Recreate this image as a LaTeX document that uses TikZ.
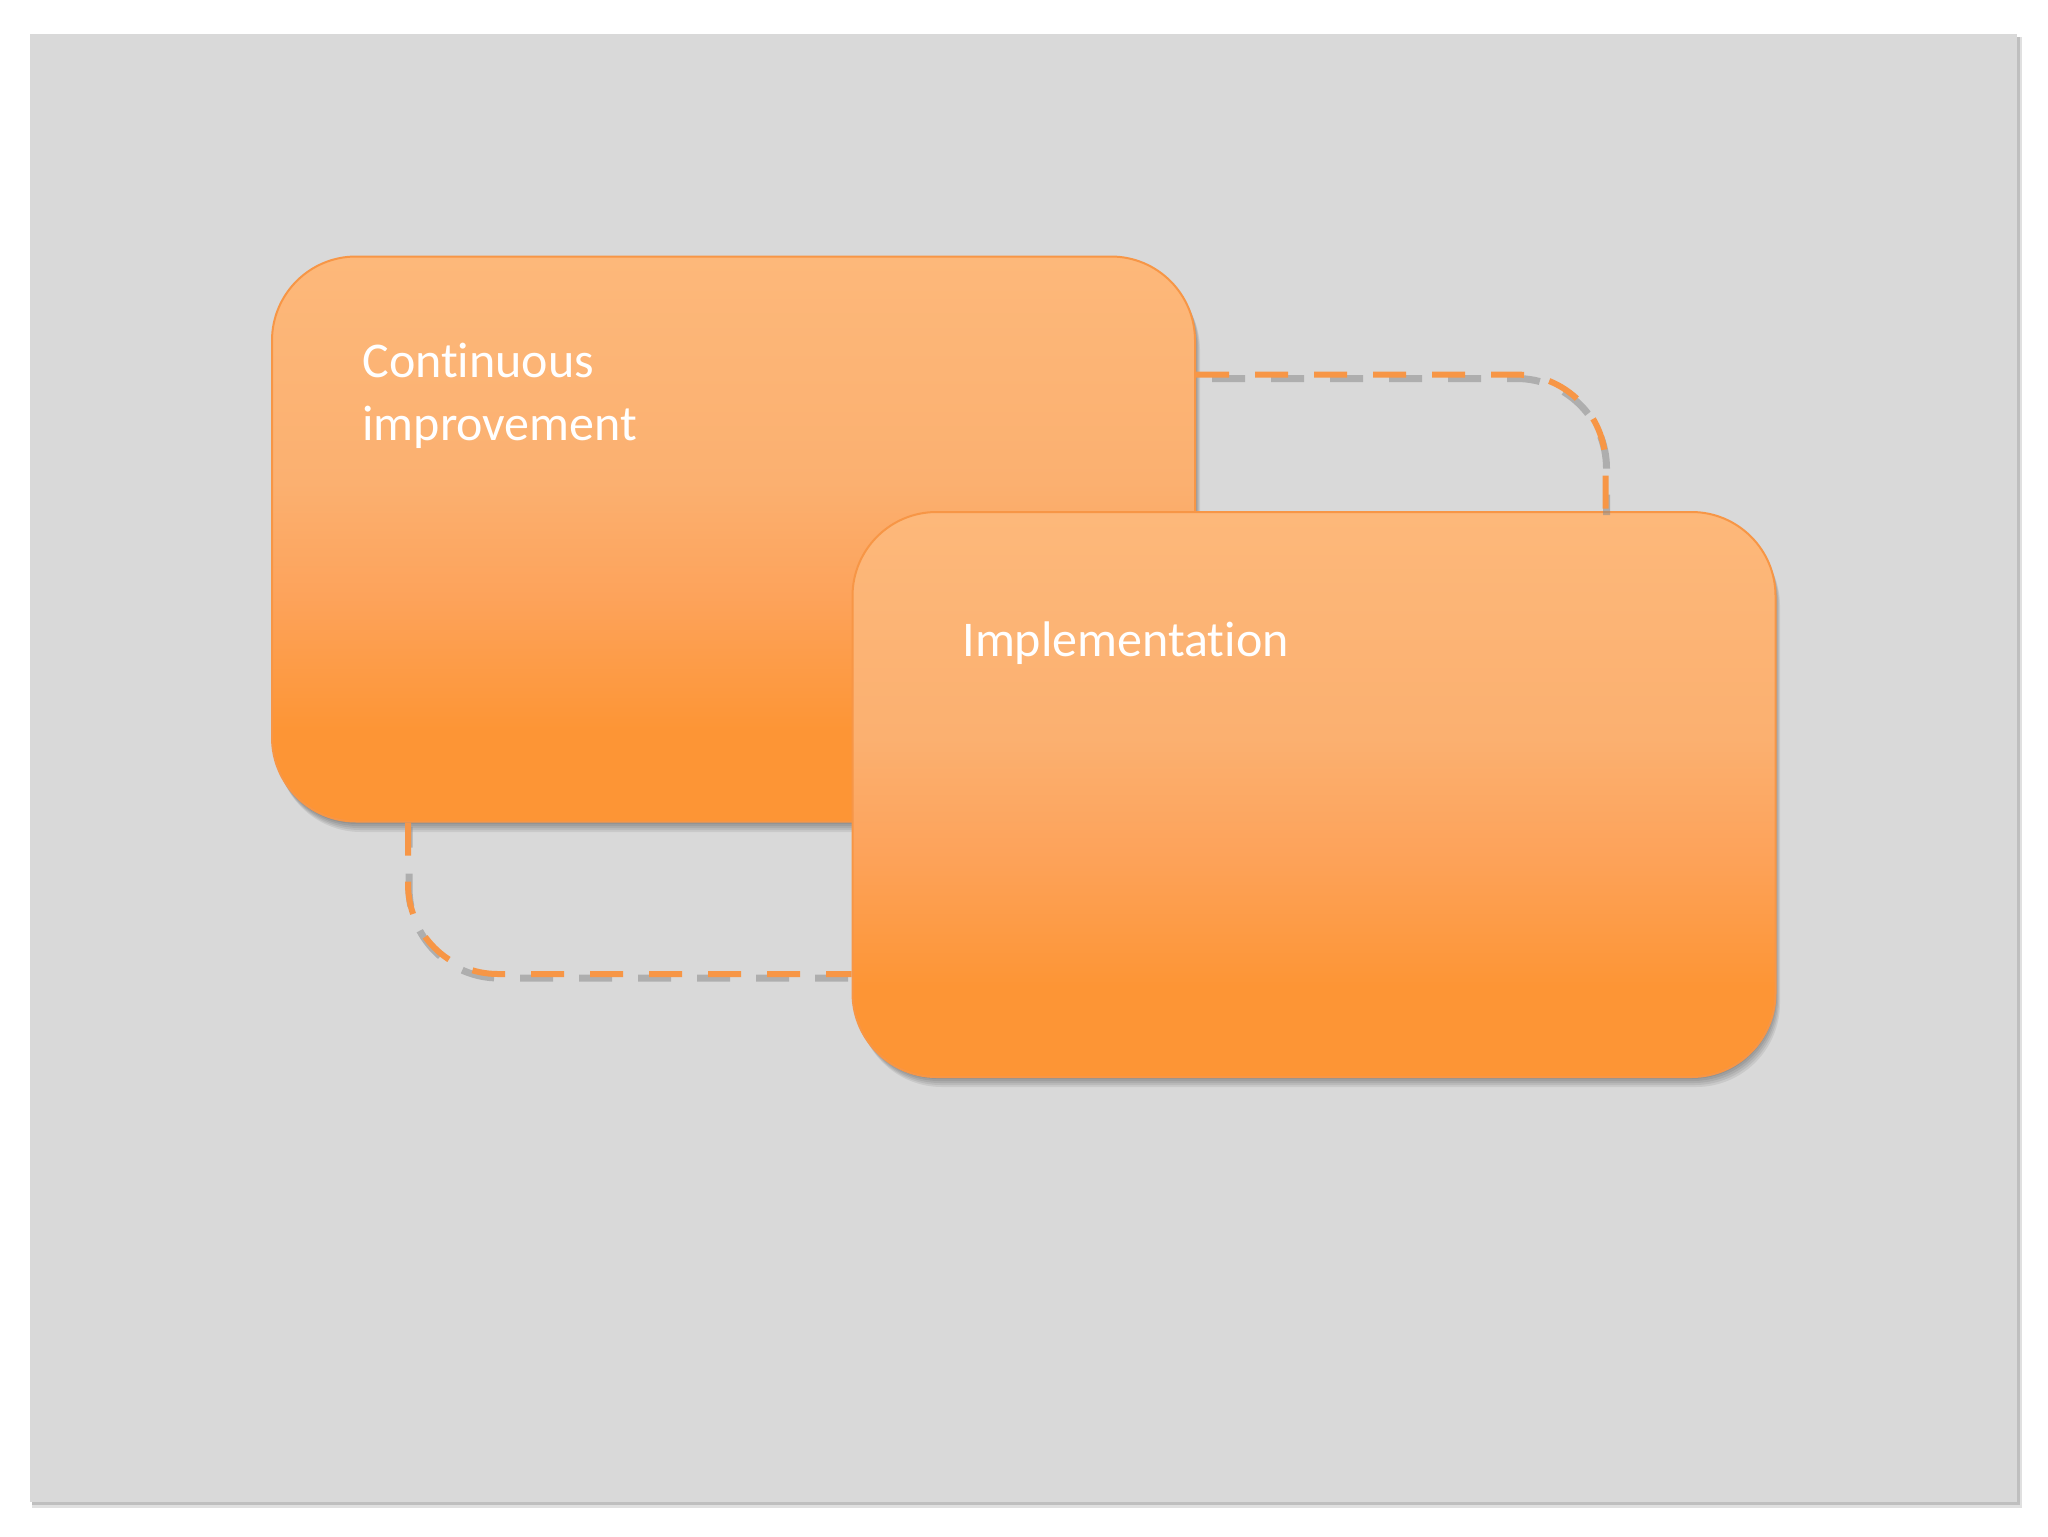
\documentclass[tikz,border=0pt]{standalone}
\usepackage{fontspec}
\setmainfont{Carlito}[Ligatures=NoCommon]
\definecolor{bggray}{HTML}{D9D9D9}
\definecolor{oline}{HTML}{F79646}
\definecolor{otop}{HTML}{FDB87A}
\definecolor{oupper}{HTML}{FBB070}
\definecolor{omid}{HTML}{FDA35B}
\definecolor{obot}{HTML}{FD9535}
\pgfdeclareverticalshading{boxshade}{100bp}{color(0bp)=(obot); color(33bp)=(obot); color(45bp)=(omid); color(55bp)=(oupper); color(75bp)=(otop); color(100bp)=(otop)}
\begin{document}
\begin{tikzpicture}[x=0.5pt,y=-0.5pt,
  panel/.style={draw=oline, line width=1pt, rounded corners=42pt, shade, shading=boxshade,
    minimum width=461.5pt, minimum height=282.5pt, inner sep=0pt},
  panelshadow/.style={fill=black, opacity=0.07, rounded corners=42pt},
  conn/.style={draw=oline, line width=3pt, dash pattern=on 16.5pt off 13pt, rounded corners=45pt},
  connshadow/.style={draw=black!45, opacity=0.55, line width=3.5pt, dash pattern=on 16.5pt off 13pt, rounded corners=45pt},
  lbl/.style={text=white, font=\fontsize{25}{31.5}\selectfont, inner sep=0pt, align=left, anchor=north west}]
\useasboundingbox (0,0) rectangle (2048,1536);
\fill[black!12] (32,37) rectangle (2022,1508);
\fill[black!25] (32,37) rectangle (2020,1505);
\fill[bggray] (30,34) rectangle (2017,1502);
% box 1 shadow (soft)
\foreach \d in {2,4,6,8,10}{
  \fill[panelshadow] (272+\d/2,256+\d) rectangle (1195+\d/2,822+\d);
}
\node[panel] (box1) at (733.5,539) {};
% box 2 shadow (soft)
\foreach \d in {2,4,6,8,10}{
  \fill[panelshadow] (853+\d/2,512+\d) rectangle (1775+\d/2,1077+\d);
}
\node[panel] (box2) at (1314,794.5) {};
% connector shadows
\begin{scope}[transform canvas={xshift=0.5pt, yshift=-2pt}]
\draw[connshadow, dash phase=22pt] ([yshift=-59.5pt]box1.north east) -| ([xshift=-85.5pt]box2.north east);
\draw[connshadow, dash phase=6pt] ([xshift=68.5pt]box1.south west) |- ([yshift=52pt]box2.south west);
\end{scope}
% connectors
\draw[conn] ([yshift=-59.5pt]box1.north east) -| ([xshift=-85.5pt]box2.north east);
\draw[conn] ([xshift=68.5pt]box1.south west) |- ([yshift=52pt]box2.south west);
% labels
\node[lbl] (t1) at (362,343) {Continuous\\improvement};
\node[lbl] (t2) at (962,621) {Implementation};
\end{tikzpicture}
\end{document}
